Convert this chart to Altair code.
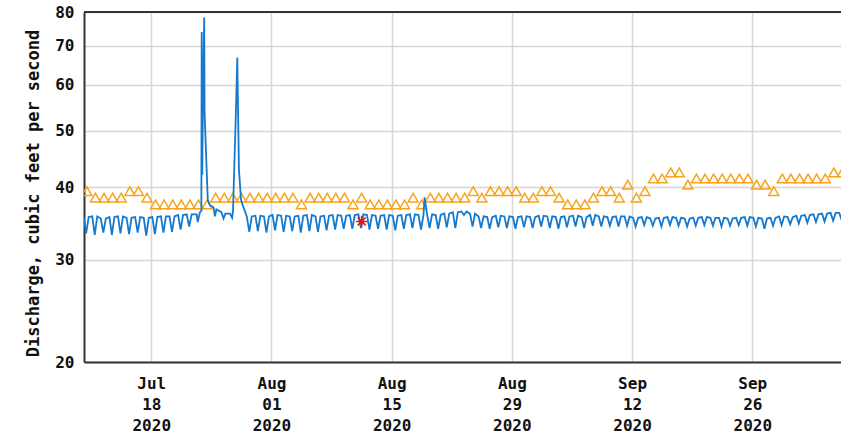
import altair as alt
import pandas as pd

# ---------------- data ----------------
start_day = "2020-07-10"

# median daily statistic (orange triangles), one per day from Jul 10
median_cfs = [39, 38, 38, 38, 38, 39, 39, 38, 37, 37, 37, 37, 37, 37, 37, 38,
              38, 38, 38, 38, 38, 38, 38, 38, 38, 37, 38, 38, 38, 38, 38, 37,
              38, 37, 37, 37, 37, 37, 38, 37, 38, 38, 38, 38, 38, 39, 38, 39,
              39, 39, 39, 38, 38, 39, 39, 38, 37, 37, 37, 38, 39, 39, 38, 40,
              38, 39, 41, 41, 42, 42, 40, 41, 41, 41, 41, 41, 41, 41, 40, 40,
              39, 41, 41, 41, 41, 41, 41, 42, 42]

# daily high / low of the 15-minute discharge (None = see spike list)
flow_high = [35.5, 35.6, 35.3, 35.5, 35.6, 35.4, 35.5, 35.4, 35.5, 35.6, 35.6, 35.8, 35.9,
             None, None, None, None, None, None,
             35.6, 35.7, 35.6, 35.8, 35.7, 35.6, 35.7, 35.8, 35.6, 35.7, 35.8, 35.7,
             35.8, 35.9, 35.8, 35.7, 35.8, 35.7, 35.8, 35.9, 35.8, 35.9, 35.8, 36.0, 36.2, 36.3, 36.0,
             35.6, 35.5, 35.7, 35.6, 35.5, 35.6, 35.5, 35.7, 35.6, 35.5, 35.6, 35.7, 35.5, 35.8, 35.6, 35.5, 35.6,
             35.6, 35.4, 35.5, 35.3, 35.4, 35.5, 35.4, 35.3, 35.4, 35.5, 35.4, 35.4, 35.3, 35.4, 35.5, 35.4,
             35.3, 35.4, 35.6, 35.5, 35.7, 35.8, 35.9, 36.0, 36.1, 36.1]
flow_low = [33.3, 33.1, 33.4, 33.1, 33.3, 33.2, 33.4, 33.0, 33.2, 33.4, 33.5, 33.8, 34.2,
            None, None, None, None, None, None,
            33.5, 33.6, 33.4, 33.7, 33.5, 33.6, 33.4, 33.6, 33.5, 33.7, 33.8, 33.9,
            33.9, 34.0, 33.8, 33.9, 33.8, 33.7, 33.9, 34.0, 33.8, 34.0, 33.9, 34.1, 34.0, 35.8, 34.2,
            34.0, 33.9, 34.1, 34.0, 33.9, 34.1, 34.0, 34.2, 34.0, 33.9, 34.1, 34.2, 34.0, 34.3, 34.2, 34.3, 34.2,
            34.3, 34.2, 34.4, 34.3, 34.2, 34.4, 34.3, 34.2, 34.3, 34.4, 34.3, 34.2, 34.3, 34.4, 34.3, 34.2,
            33.9, 34.3, 34.4, 34.5, 34.6, 34.7, 34.8, 34.9, 35.0, 35.1]

# storm peaks, Jul 23 - Jul 28
spike_times = ["2020-07-23T01:00", "2020-07-23T07:00", "2020-07-23T10:00", "2020-07-23T16:00",
               "2020-07-23T20:00", "2020-07-23T21:00", "2020-07-23T22:30", "2020-07-24T00:30",
               "2020-07-24T04:00", "2020-07-24T05:00", "2020-07-24T09:00", "2020-07-24T12:00",
               "2020-07-24T14:00", "2020-07-24T20:00", "2020-07-25T06:00", "2020-07-25T10:00",
               "2020-07-25T14:00", "2020-07-26T04:00", "2020-07-26T10:00", "2020-07-26T15:00",
               "2020-07-27T04:00", "2020-07-27T10:00", "2020-07-27T12:30", "2020-07-27T20:40",
               "2020-07-28T00:30", "2020-07-28T05:00", "2020-07-28T11:00", "2020-07-28T17:00",
               "2020-07-28T23:00"]
spike_values = [35.9, 35.9, 34.8, 36.2, 36.4, 73.9, 42.0, 56.0, 78.3, 54.0, 46.0, 41.0,
                38.0, 37.2, 36.9, 35.6, 36.6, 36.2, 35.3, 36.0, 36.0, 35.4, 36.4, 54.0,
                66.8, 43.0, 38.0, 37.0, 36.2]

blip_times = ["2020-08-18T20:00"]
blip_values = [38.4]

measured_time = ["2020-08-11T12:00"]
measured_value = [34.9]

tick_dates = [(7, 18), (8, 1), (8, 15), (8, 29), (9, 12), (9, 26)]
y_ticks = [20, 30, 40, 50, 60, 70, 80]

# ---------------- build tables ----------------
days = pd.date_range(start_day, periods=len(median_cfs), freq="D")
fmt = "%Y-%m-%dT%H:%M"
med_df = pd.DataFrame({"t": (days + pd.Timedelta(hours=12)).strftime(fmt), "v": median_cfs})

rows = []
for d, hi, lo in zip(days, flow_high, flow_low):
    if hi is None:
        continue
    rows.append((d + pd.Timedelta(hours=3), hi))
    rows.append((d + pd.Timedelta(hours=10), lo))
    rows.append((d + pd.Timedelta(hours=17), hi))
for t, v in zip(spike_times + blip_times, spike_values + blip_values):
    rows.append((pd.Timestamp(t), v))
rows.sort(key=lambda r: r[0])
flow_df = pd.DataFrame({"t": [r[0].strftime(fmt) for r in rows], "v": [r[1] for r in rows]})
meas_df = pd.DataFrame({"t": measured_time, "v": measured_value})

# ---------------- chart ----------------
FONT = "DejaVu Sans Mono"
x_scale = alt.Scale(domain=[alt.DateTime(year=2020, month=7, date=10, hours=4),
                            alt.DateTime(year=2020, month=10, date=6, hours=8)])
y_scale = alt.Scale(type="log", domain=[20, 80], nice=False)

x_axis = alt.Axis(
    values=[alt.DateTime(year=2020, month=m, date=d) for m, d in tick_dates],
    labelExpr="[timeFormat(datum.value, '%b'), timeFormat(datum.value, '%d'), timeFormat(datum.value, '%Y')]",
    title=None, grid=True, gridColor="#d6d6d6", gridWidth=1.5, ticks=False,
    domain=True, domainColor="#333333", domainWidth=2,
    labelFont=FONT, labelFontWeight="bold", labelFontSize=16, labelLineHeight=21,
    labelBaseline="top", labelPadding=13, labelColor="#111111", labelFlush=False,
)
y_axis = alt.Axis(
    values=y_ticks, title="Discharge, cubic feet per second",
    grid=True, gridColor="#d6d6d6", gridWidth=1.5, ticks=False,
    domain=True, domainColor="#333333", domainWidth=2,
    labelFont=FONT, labelFontWeight="bold", labelFontSize=16, labelPadding=10,
    labelColor="#111111",
    titleFont=FONT, titleFontWeight="bold", titleFontSize=17, titleColor="#111111",
    titleX=-51, titleY=181, titleAngle=-90, titleAlign="center", titleBaseline="middle",
)

tri = alt.Chart(med_df).mark_point(
    shape="triangle-up", size=100, filled=False, color="#f8a31c", strokeWidth=1.5,
    yOffset=-2.3, clip=True, opacity=1,
).encode(x=alt.X("t:T", scale=x_scale, axis=x_axis), y=alt.Y("v:Q", scale=y_scale, axis=y_axis))

flow = alt.Chart(flow_df).mark_line(color="#1479cf", strokeWidth=1.8, clip=True).encode(
    x=alt.X("t:T", scale=x_scale, axis=x_axis), y=alt.Y("v:Q", scale=y_scale, axis=y_axis)
)

meas = alt.Chart(meas_df).mark_point(
    shape="M-1,0L1,0M0,-1L0,1M-0.7,-0.7L0.7,0.7M-0.7,0.7L0.7,-0.7",
    size=130, color="#ee1111", strokeWidth=1.6, filled=False, opacity=1,
).encode(x=alt.X("t:T", scale=x_scale, axis=x_axis), y=alt.Y("v:Q", scale=y_scale, axis=y_axis))

top_border = alt.Chart(meas_df).mark_rule(color="#333333", strokeWidth=2).encode(
    x=alt.value(0), x2=alt.value(757), y=alt.value(0)
)

chart = alt.layer(tri, flow, meas, top_border).properties(
    width=757, height=350, autosize="none",
    padding={"left": 84, "top": 12, "right": 0, "bottom": 71},
    background="white",
).configure_view(stroke=None)

chart.save("out.html", embed_options={"renderer": "svg", "actions": False})
